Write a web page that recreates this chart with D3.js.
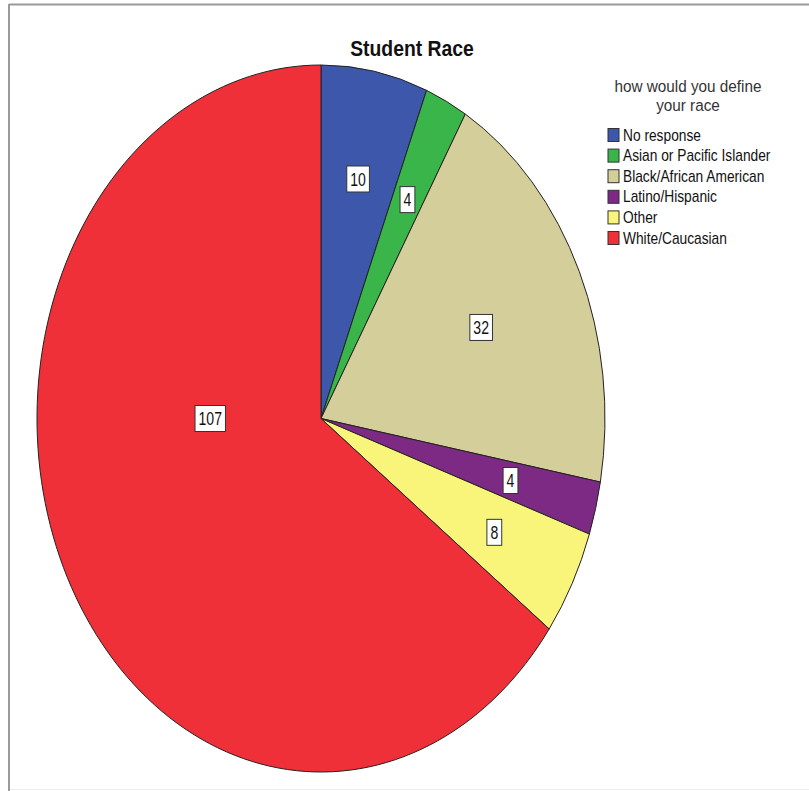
<!DOCTYPE html>
<html>
<head>
<meta charset="utf-8">
<script src="https://cdn.jsdelivr.net/npm/d3@7"></script>
<style>
  body { margin: 0; background: #fff; }
  svg { display: block; }
</style>
</head>
<body>
<svg id="chart"></svg>
<script>
// ---- data
let categories = ['No response', 'Asian or Pacific Islander', 'Black/African American', 'Latino/Hispanic', 'Other', 'White/Caucasian']
let counts = [10, 4, 32, 4, 8, 107]
let colors = ['#3D57AB', '#3AB54A', '#D4CE9A', '#7D2A84', '#F9F57A', '#EF3039']
let legendTitle = ['how would you define', 'your race']
let chartTitle = 'Student Race'

let W = 809, H = 791
let font = 'Liberation Sans, Arial, sans-serif'

let svg = d3.select('#chart')
	.attr('width', W)
	.attr('height', H)

// frame lines like the SPSS output window
svg.append('line').attr('x1', 9).attr('x2', W).attr('y1', 4.5).attr('y2', 4.5)
	.attr('stroke', '#9a9a9a').attr('stroke-width', 2)
svg.append('line').attr('x1', 9).attr('x2', 9).attr('y1', 4).attr('y2', H)
	.attr('stroke', '#9a9a9a').attr('stroke-width', 2)
svg.append('line').attr('x1', 10).attr('x2', W).attr('y1', 789.5).attr('y2', 789.5)
	.attr('stroke', '#ececec').attr('stroke-width', 1)

// narrow-looking text: squeeze horizontally
function narrowText(sel, x, y, sx) {
	return sel.attr('transform', `translate(${x},${y}) scale(${sx},1)`)
}

// title
narrowText(svg.append('text'), 412, 56, 0.88)
	.attr('text-anchor', 'middle')
	.attr('font-family', font)
	.attr('font-weight', 'bold')
	.attr('font-size', '22px')
	.attr('fill', '#111')
	.text(chartTitle)

// ---- pie (circle stretched into an ellipse)
let cx = 321, cy = 418.5
let rx = 284, ry = 353.5
let R = 100

let pie = d3.pie().sort(null).value(d => d)
let arcs = pie(counts)

let arc = d3.arc().innerRadius(0).outerRadius(R)

let pieG = svg.append('g')
	.attr('transform', `translate(${cx},${cy}) scale(${rx / R},${ry / R})`)

pieG.selectAll('path').data(arcs)
	.enter()
	.append('path')
	.attr('d', arc)
	.attr('fill', (d, i) => colors[i])
	.attr('stroke', '#222')
	.attr('stroke-width', 1)
	.attr('vector-effect', 'non-scaling-stroke')

// value labels: mid angle of the slice; a slice bigger than half the pie
// gets its label on the widest side (left, 270deg) if it covers it
function labelPos(d) {
	let span = d.endAngle - d.startAngle
	let a = (d.startAngle + d.endAngle) / 2
	let f = span > 1 ? 0.62 : 0.69
	if (span > Math.PI) {
		if (d.startAngle <= 1.5 * Math.PI && d.endAngle >= 1.5 * Math.PI) a = 1.5 * Math.PI
		f = 0.39
	}
	return [cx + Math.sin(a) * rx * f, cy - Math.cos(a) * ry * f]
}

let labG = svg.append('g')
arcs.forEach(d => {
	let p = labelPos(d)
	let g = labG.append('g').attr('transform', `translate(${p[0]},${p[1]})`)
	let t = g.append('text')
		.attr('text-anchor', 'middle')
		.attr('dominant-baseline', 'central')
		.attr('transform', 'scale(0.78,1)')
		.attr('font-family', font)
		.attr('font-size', '18px')
		.attr('fill', '#111')
		.text(d.data)
	let bw = t.node().getBBox().width * 0.78
	g.insert('rect', 'text')
		.attr('x', -bw / 2 - 3.5)
		.attr('y', -13)
		.attr('width', bw + 7)
		.attr('height', 26)
		.attr('fill', '#fff')
		.attr('stroke', '#333')
		.attr('stroke-width', 1)
})

// ---- legend
let legX = 608, legY = 128.5
let legend = svg.append('g')

legend.selectAll('text.lt').data(legendTitle)
	.enter()
	.append('text')
	.attr('class', 'lt')
	.each(function(d, i) { narrowText(d3.select(this), 688, 92 + i * 19, 0.9) })
	.attr('text-anchor', 'middle')
	.attr('font-family', font)
	.attr('font-size', '17px')
	.attr('fill', '#333')
	.text(d => d)

let rows = legend.selectAll('g.row').data(categories)
	.enter()
	.append('g')
	.attr('class', 'row')
	.attr('transform', (d, i) => `translate(${legX},${legY + i * 20.6})`)

rows.append('rect')
	.attr('x', 0).attr('y', 0)
	.attr('width', 11).attr('height', 13)
	.attr('fill', (d, i) => colors[i])
	.attr('stroke', '#333')
	.attr('stroke-width', 1)

rows.append('text')
	.attr('transform', 'translate(15,12) scale(0.86,1)')
	.attr('font-family', font)
	.attr('font-size', '16px')
	.attr('fill', '#111')
	.text(d => d)
</script>
</body>
</html>
